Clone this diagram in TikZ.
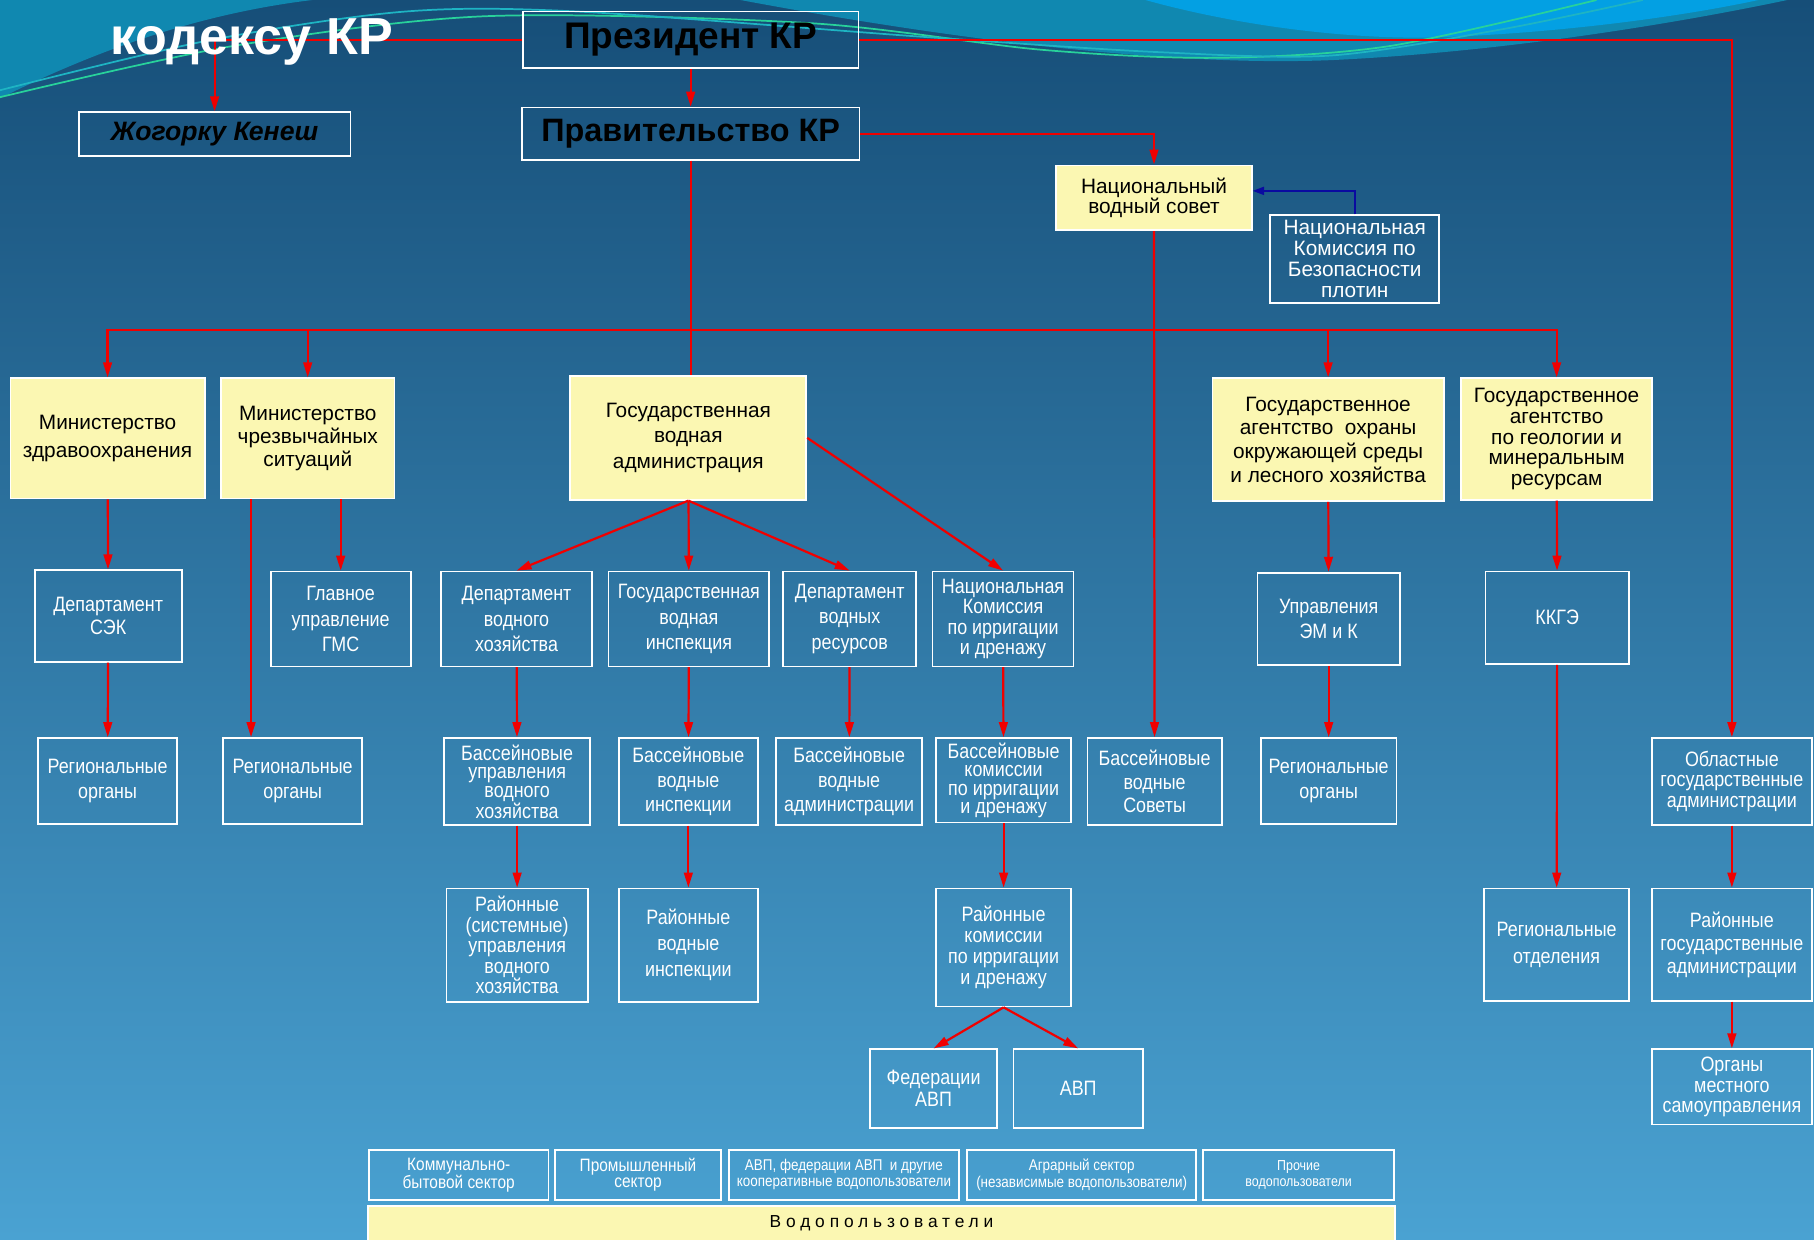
\documentclass[tikz,border=0pt]{standalone}
\usepackage{fontspec}
\setmainfont{Liberation Sans}
\newfontfamily\narrowfont[FakeStretch=0.86]{Liberation Sans}
\newfontfamily\spacedfont[LetterSpace=28]{Liberation Sans}
\usetikzlibrary{arrows.meta}
\definecolor{boxyellow}{RGB}{251,247,178}
\definecolor{bgtop}{RGB}{22,78,120}
\definecolor{bgmid}{RGB}{40,122,172}
\definecolor{bgbot}{RGB}{74,162,210}
\definecolor{wavecyan}{RGB}{3,160,227}
\definecolor{waveteal}{RGB}{16,136,176}
\definecolor{linegreen}{RGB}{40,210,155}
\definecolor{lineteal}{RGB}{30,180,195}
\definecolor{arrred}{RGB}{240,0,0}
\definecolor{arrblue}{RGB}{10,10,160}
\tikzset{
  ybox/.style={draw=white, line width=1.5pt, fill=boxyellow, text=black, align=center, inner sep=0pt},
  wbox/.style={draw=white, line width=1.5pt, text=white, align=center, inner sep=0pt},
  sz/.style 2 args={minimum width=#1pt, minimum height=#2pt},
  yfont/.style={font=\fontsize{18}{#1}\selectfont},
  wfont/.style={font=\narrowfont\fontsize{18}{#1}\selectfont},
  sfont/.style={font=\narrowfont\fontsize{#1}{14}\selectfont},
  redline/.style={draw=arrred, line width=1.9pt},
  arr/.style={redline, -{Triangle[length=13pt,width=7.5pt]}},
}
\begin{document}
\begin{tikzpicture}[x=1pt, y=-1pt]
\useasboundingbox (0,0) rectangle (1568,1071);
\clip (0,0) rectangle (1568,1071);
\shade[top color=bgtop, middle color=bgmid, bottom color=bgbot] (0,0) rectangle (1568,1071);
\fill[waveteal] (0,0) -- (0,85) .. controls (80,45) and (170,12) .. (270,0) -- cycle;
\fill[waveteal] (640,0) .. controls (800,30) and (1000,58) .. (1150,52) .. controls (1300,45) and (1450,20) .. (1545,0) -- cycle;
\fill[wavecyan] (990,0) .. controls (1080,25) and (1180,35) .. (1250,32) .. controls (1350,28) and (1450,15) .. (1520,0) -- cycle;
\draw[linegreen, line width=1.5pt] plot[smooth] coordinates {(0,84) (200,40) (420,14) (700,20) (900,43) (1050,50) (1200,40) (1380,0)};
\draw[lineteal, line width=1.5pt] plot[smooth] coordinates {(0,78) (180,35) (350,10) (500,10) (800,32) (1000,45) (1150,48) (1300,25) (1420,0)};

% top
\node[wbox, sz={290}{49}, text=black, font=\fontsize{32}{34}\bfseries\selectfont] (pres) at (597,34.5) {Президент КР};
\node[wbox, sz={235}{38}, text=black, font=\fontsize{23}{25}\bfseries\itshape\selectfont] (zhk) at (185.5,116) {Жогорку Кенеш};
\node[wbox, sz={292}{45}, text=black, font=\fontsize{28}{30}\bfseries\selectfont] (gov) at (597,115.5) {Правительство КР};
\node[ybox, sz={169}{56}, yfont=18] (nvs) at (997.5,171) {Национальный\\водный совет};
\node[wbox, sz={146}{76}, font=\fontsize{18}{18}\selectfont] (komis) at (1171,224) {Национальная\\Комиссия по\\Безопасности\\плотин};

% ministries
\node[ybox, sz={168}{104}, yfont=24] (mz) at (93,379) {Министерство\\здравоохранения};
\node[ybox, sz={150}{104}, yfont=20] (mchs) at (266,379) {Министерство\\чрезвычайных\\ситуаций};
\node[ybox, sz={204}{107}, yfont=22] (gva) at (595,378.5) {Государственная\\водная\\администрация};
\node[ybox, sz={200}{106}, yfont=20.5] (gaoos) at (1148,380) {Государственное\\агентство\ \ охраны\\окружающей среды\\и лесного хозяйства};
\node[ybox, sz={165}{105}, yfont=18] (geol) at (1345.5,379.5) {Государственное\\агентство\\по геологии и\\минеральным\\ресурсам};

% second row
\node[wbox, sz={127}{79}, wfont=20] (sek) at (93.5,532.5) {Департамент\\СЭК};
\node[wbox, sz={121}{82}, wfont=22] (gms) at (294.5,535) {Главное\\управление\\ГМС};
\node[wbox, sz={131}{82}, wfont=22] (dvh) at (446.5,535) {Департамент\\водного\\хозяйства};
\node[wbox, sz={139}{82}, wfont=22] (gvi) at (595.5,535) {Государственная\\водная\\инспекция};
\node[wbox, sz={115}{82}, wfont=22] (dvr) at (734.5,535) {Департамент\\водных\\ресурсов};
\node[wbox, sz={122}{82}, wfont=17.5] (nkid) at (867,535) {Национальная\\Комиссия\\по ирригации\\и дренажу};
\node[wbox, sz={123}{80}, wfont=21] (upr) at (1148.5,535) {Управления\\ЭМ и К};
\node[wbox, sz={124}{80}, wfont=20] (kkge) at (1346,534) {ККГЭ};

% third row
\node[wbox, sz={120}{74}, wfont=22] (reg1) at (93,675) {Региональные\\органы};
\node[wbox, sz={120}{74}, wfont=22] (reg2) at (253,675) {Региональные\\органы};
\node[wbox, sz={126}{75}, wfont=16] (bbuvh) at (447,675.5) {Бассейновые\\управления\\водного\\хозяйства};
\node[wbox, sz={120}{75}, wfont=21] (bvi) at (595,675.5) {Бассейновые\\водные\\инспекции};
\node[wbox, sz={126}{75}, wfont=21] (bva) at (734,675.5) {Бассейновые\\водные\\администрации};
\node[wbox, sz={117}{73}, wfont=16] (bkid) at (867.5,674.5) {Бассейновые\\комиссии\\по ирригации\\и дренажу};
\node[wbox, sz={116}{75}, wfont=20] (bvs) at (998,675.5) {Бассейновые\\водные\\Советы};
\node[wbox, sz={117}{74}, wfont=22] (reg3) at (1148.5,675) {Региональные\\органы};
\node[wbox, sz={138}{75}, wfont=18] (obl) at (1497,675.5) {Областные\\государственные\\администрации};

% fourth row
\node[wbox, sz={122}{98}, wfont=17.7] (ruvh) at (447,817) {Районные\\(системные)\\управления\\водного\\хозяйства};
\node[wbox, sz={120}{98}, wfont=22.5] (rvi) at (595,817) {Районные\\водные\\инспекции};
\node[wbox, sz={117}{102}, wfont=18] (rkid) at (867.5,819) {Районные\\комиссии\\по ирригации\\и дренажу};
\node[wbox, sz={125}{97}, wfont=23] (regotd) at (1345.5,816.5) {Региональные\\отделения};
\node[wbox, sz={138}{97}, wfont=20] (rga) at (1497,816.5) {Районные\\государственные\\администрации};
\node[wbox, sz={110}{68}, wfont=19] (fed) at (807,941) {Федерации\\АВП};
\node[wbox, sz={112}{68}, wfont=19] (avp) at (932,941) {АВП};
\node[wbox, sz={138}{65}, wfont=18] (omsu) at (1497,939.5) {Органы\\местного\\самоуправления};

% water users
\node[wbox, sz={155}{43}, sfont=15.5] (s1) at (396.5,1015.5) {Коммунально-\\бытовой сектор};
\node[wbox, sz={143}{43}, sfont=15.5] (s2) at (551.5,1015.5) {Промышленный\\сектор};
\node[wbox, sz={199}{43}, sfont=13.5] (s3) at (729.5,1015.5) {АВП, федерации АВП\ \ и другие\\кооперативные водопользователи};
\node[wbox, sz={198}{43}, sfont=13.5] (s4) at (935,1015.5) {Аграрный сектор\\(независимые водопользователи)};
\node[wbox, sz={165}{43}, sfont=12.5] (s5) at (1122.5,1015.5) {Прочие\\водопользователи};
\node[ybox, sz={888}{40}, anchor=north, font=\spacedfont\fontsize{15}{16}\selectfont, text depth=14pt] (vodo) at (762,1042) {Водопользователи};

% connectors
\draw[arr] (pres.west) -| (zhk.north);
\draw[arr] (pres.east) -| (obl.north);
\draw[arr] (pres) -- (gov);
\draw[arr] (gov.east) -| (nvs.north);
\draw[draw=arrblue, line width=1.6pt, -{Triangle[length=10pt,width=7pt]}] (komis.north) |- ([yshift=6pt]nvs.east);
\draw[redline] (gov.south) -- (gov.south |- gva.north);
\coordinate (bus) at (597,285);
\foreach \n in {mz,mchs,gaoos,geol}
  \draw[arr] (bus) -| (\n.north);
\draw[arr] (nvs) -- (bvs);
\foreach \a/\b in {mz/sek, sek/reg1, gaoos/upr, upr/reg3, geol/kkge, kkge/regotd, gva/gvi, gvi/bvi, bvi/rvi, dvh/bbuvh, bbuvh/ruvh, dvr/bva, nkid/bkid, bkid/rkid, obl/rga, rga/omsu}
  \draw[arr] (\a) -- (\b);
\draw[arr] ([xshift=-49pt]mchs.south) -- ([xshift=-49pt]mchs.south |- reg2.north);
\draw[arr] (gms.north |- mchs.south) -- (gms.north);
\draw[arr] (gva.south) -- (dvh.north);
\draw[arr] (gva.south) -- (dvr.north);
\draw[arr] (gva.east) -- (nkid.north);
\draw[arr] (rkid.south) -- (fed.north);
\draw[arr] (rkid.south) -- (avp.north);

\node[text=white, font=\fontsize{45}{47}\bfseries\selectfont, anchor=base west, inner sep=0pt] (title) at (95,47) {кодексу КР};
\end{tikzpicture}
\end{document}
